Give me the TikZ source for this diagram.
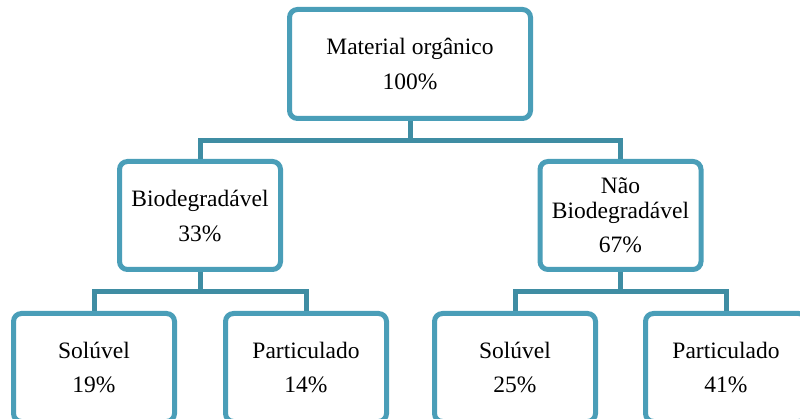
\documentclass[tikz,border=0pt]{standalone}
\usepackage{fontspec}
\setmainfont{Liberation Serif}
\usepackage{tikz}
\usetikzlibrary{positioning,calc}
\usepackage{xcolor}
\definecolor{moBox}{HTML}{4A9EB8}
\definecolor{moLink}{HTML}{3F8DA3}

\begin{document}
\begin{tikzpicture}[x=1pt, y=-1pt,
  box/.style={draw=moBox, line width=5pt, rounded corners=8pt, fill=white, align=center,
    minimum width=161pt, minimum height=108pt, inner sep=2pt,
    font=\fontsize{23.5}{25}\selectfont},
  link/.style={draw=moLink, line width=5pt}]
\useasboundingbox (0,0) rectangle (800,419);
\clip (0,0) rectangle (800,419);

% nivel 0
\node[box, minimum width=241pt, minimum height=109pt] (matorg) at (410,64) {Material orgânico\\[10pt]100\%};

% nivel 1
\node[box] (biodeg) at (200,215.5) {Biodegradável\\[10pt]33\%};
\node[box] (naobio) at (620.5,215.5) {Não\\Biodegradável\\[9pt]67\%};

% nivel 2
\node[box] (solbio)  at (94,367.5)  {Solúvel\\[9pt]19\%};
\node[box] (partbio) at (306,367.5) {Particulado\\[9pt]14\%};
\node[box] (solnao)  at (515,367.5) {Solúvel\\[9pt]25\%};
\node[box] (partnao) at (726,367.5) {Particulado\\[9pt]41\%};

% ligacoes
\coordinate (j0) at (410,140.5);
\coordinate (j1) at (200,291.5);
\coordinate (j2) at (620.5,291.5);
\draw[link] (matorg.south) -- (j0);
\draw[link] (biodeg.north) |- (j0) -| (naobio.north);
\draw[link] (biodeg.south) -- (j1);
\draw[link] (solbio.north) |- (j1) -| (partbio.north);
\draw[link] (naobio.south) -- (j2);
\draw[link] (solnao.north) |- (j2) -| (partnao.north);
\end{tikzpicture}
\end{document}
